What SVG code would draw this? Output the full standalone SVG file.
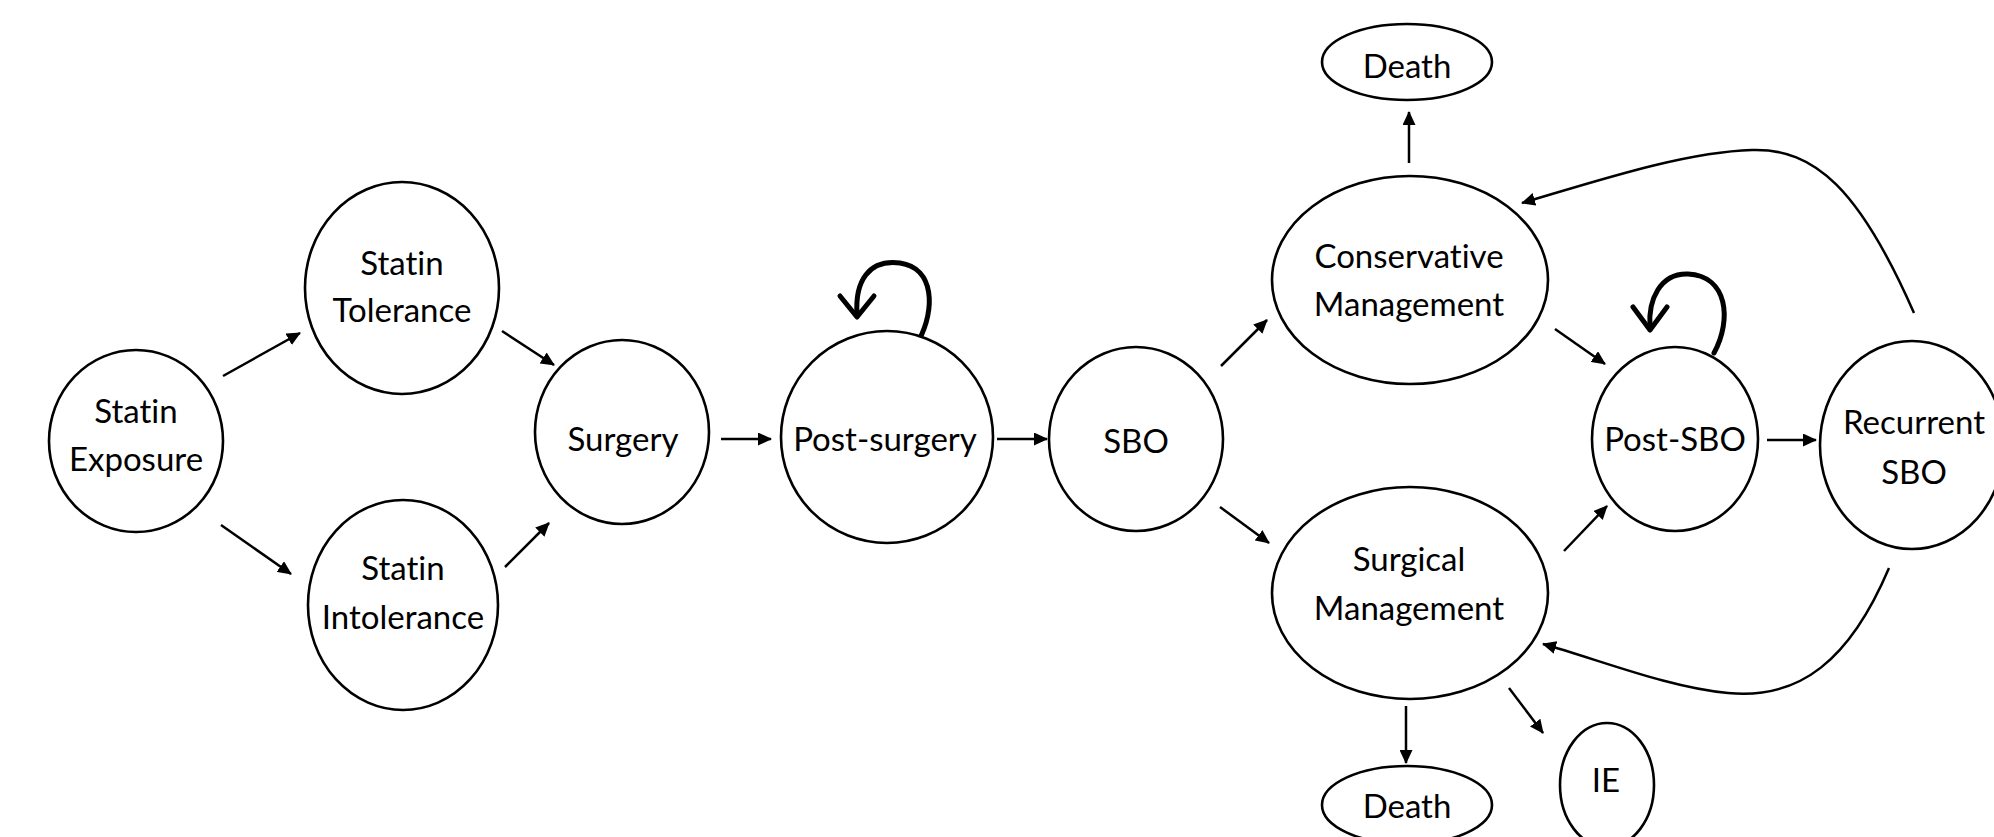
<svg xmlns="http://www.w3.org/2000/svg" width="1994" height="837" viewBox="0 0 1994 837">
<defs>
<marker id="ah" viewBox="0 0 14 13" refX="13" refY="6.5" markerWidth="14" markerHeight="13" markerUnits="userSpaceOnUse" orient="auto">
<path d="M0,0 L14,6.5 L0,13 z" fill="#000"/>
</marker>
<style>
.n{fill:#fff;stroke:#000;stroke-width:2.6}
.t{font-family:Lato,"Open Sans",sans-serif;font-size:33px;fill:#000;text-anchor:middle;font-variant-ligatures:none;font-feature-settings:"liga" 0,"clig" 0}
.c{fill:none;stroke:#000;stroke-width:2.5}
.a{marker-end:url(#ah)}
.loop{fill:none;stroke:#000;stroke-width:5;stroke-linecap:round;stroke-linejoin:round}
</style>
</defs>
<rect width="1994" height="837" fill="#fff"/>
<g id="connectors">
<path class="c a" d="M223,376 L300,333"/>
<path class="c a" d="M221,525 L291,574"/>
<path class="c a" d="M502,331 L554,365"/>
<path class="c a" d="M505,567 L549,523"/>
<path class="c a" d="M721,439 L771,439"/>
<path class="c a" d="M997,439 L1047,439"/>
<path class="c a" d="M1221,366 L1267,320"/>
<path class="c a" d="M1220,507 L1269,543"/>
<path class="c a" d="M1409,163 L1409,112"/>
<path class="c a" d="M1555,329 L1605,364"/>
<path class="c a" d="M1564,551 L1607,506"/>
<path class="c a" d="M1767,440 L1816,440"/>
<path class="c a" d="M1406,706 L1406,763"/>
<path class="c a" d="M1509,688 L1543,733"/>
<path class="c a" d="M1914,313 C1860,190 1815,148 1752,150 C1685,152 1600,180 1522,203"/>
<path class="c a" d="M1889,568 C1850,660 1800,700 1728,693 C1670,688 1600,660 1543,644"/>
<path class="loop" d="M919,340 C935,310 935,268 900,263 C868,259 855,282 857,314"/>
<path class="loop" d="M840,296 L857,317 L874,296"/>
<path class="loop" d="M1714,353 C1732,320 1728,276 1688,274 C1660,273 1648,300 1650,327"/>
<path class="loop" d="M1633,307 L1650,330 L1667,307"/>
</g>
<g id="statin-exposure"><ellipse class="n" cx="136" cy="441" rx="87" ry="91"/><text class="t" x="136" y="423">Statin</text><text class="t" x="136" y="471">Exposure</text></g>
<g id="statin-tolerance"><ellipse class="n" cx="402" cy="288" rx="97" ry="106"/><text class="t" x="402" y="275">Statin</text><text class="t" x="402" y="322">Tolerance</text></g>
<g id="statin-intolerance"><ellipse class="n" cx="403" cy="605" rx="95" ry="105"/><text class="t" x="403" y="580">Statin</text><text class="t" x="403" y="629">Intolerance</text></g>
<g id="surgery"><ellipse class="n" cx="622" cy="432" rx="87" ry="92"/><text class="t" x="623" y="451">Surgery</text></g>
<g id="post-surgery"><ellipse class="n" cx="887" cy="437" rx="106" ry="106"/><text class="t" x="885" y="451">Post-surgery</text></g>
<g id="sbo"><ellipse class="n" cx="1136" cy="439" rx="87" ry="92"/><text class="t" x="1136" y="453">SBO</text></g>
<g id="death-top"><ellipse class="n" cx="1407" cy="62" rx="85" ry="38"/><text class="t" x="1407" y="78">Death</text></g>
<g id="conservative"><ellipse class="n" cx="1410" cy="280" rx="138" ry="104"/><text class="t" x="1409" y="268">Conservative</text><text class="t" x="1409" y="316">Management</text></g>
<g id="surgical"><ellipse class="n" cx="1410" cy="593" rx="138" ry="106"/><text class="t" x="1409" y="571">Surgical</text><text class="t" x="1409" y="620">Management</text></g>
<g id="post-sbo"><ellipse class="n" cx="1675" cy="439" rx="83" ry="92"/><text class="t" x="1675" y="451">Post-SBO</text></g>
<g id="recurrent-sbo"><ellipse class="n" cx="1912" cy="445" rx="92" ry="104"/><text class="t" x="1914" y="434">Recurrent</text><text class="t" x="1914" y="484">SBO</text></g>
<g id="death-bottom"><ellipse class="n" cx="1407" cy="805" rx="85" ry="39"/><text class="t" x="1407" y="818">Death</text></g>
<g id="ie"><ellipse class="n" cx="1607" cy="785" rx="47" ry="62"/><text class="t" x="1606" y="792">IE</text></g>
</svg>
